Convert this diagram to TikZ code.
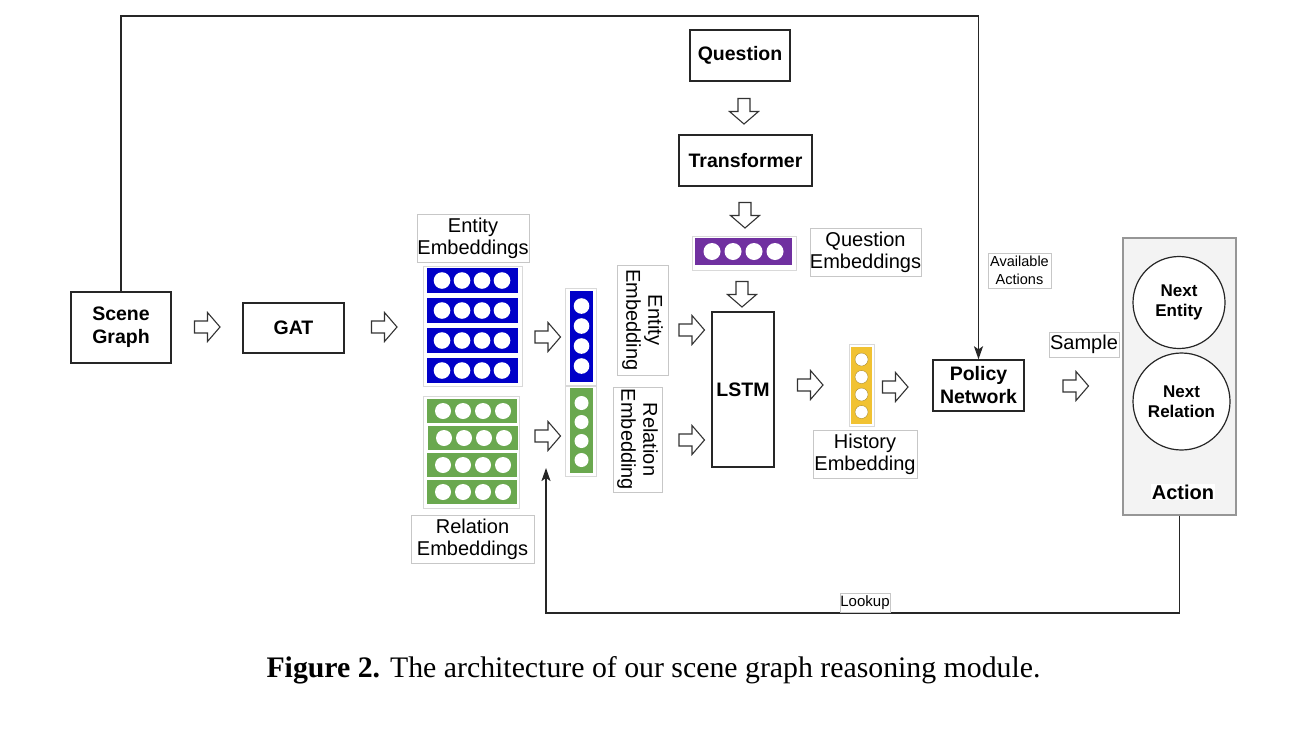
\documentclass[tikz,border=0pt]{standalone}
\usepackage{fontspec}
\setmainfont{Liberation Serif}
\setsansfont{Liberation Sans}
\usetikzlibrary{arrows.meta}
\definecolor{eblue}{RGB}{0,0,200}
\definecolor{rgreen}{RGB}{106,168,79}
\definecolor{qpurple}{RGB}{112,48,160}
\definecolor{hyellow}{RGB}{241,194,50}
\definecolor{actfill}{RGB}{243,243,243}
\definecolor{actdraw}{RGB}{150,150,150}
\newcommand\harr[3]{\draw[harrow,shift={(#1,#2)},rotate=#3] (-12.5,-6) -- (0.5,-6) -- (0.5,-14.5) -- (13,0) -- (0.5,14.5) -- (0.5,6) -- (-12.5,6) -- cycle;}
\begin{document}
\begin{tikzpicture}[x=1pt,y=-1pt,
  box/.style={draw=black!85, line width=1.4pt, inner sep=0pt, align=center, font=\sffamily\bfseries\fontsize{19.5}{23}\selectfont},
  lbl/.style={draw=black!22, line width=0.7pt, fill=white, inner sep=0pt, align=center, font=\sffamily\fontsize{20}{22}\selectfont},
  smalllbl/.style={lbl, font=\sffamily\fontsize{14.5}{18}\selectfont},
  harrow/.style={draw=black!80, line width=1.1pt, fill=white, line join=miter},
  conn/.style={draw=black!85, line width=1.8pt},
  tipped/.style={-{Stealth[length=13pt,width=9pt,inset=3pt]}},
  vframe/.style={draw=black!15, line width=0.6pt},
]
\useasboundingbox (0,0) rectangle (1298,734);

% main boxes
\node[box, minimum width=100pt, minimum height=71pt] (sg) at (121,327.5) {Scene\\Graph};
\node[box, minimum width=101pt, minimum height=50pt] (gat) at (293.5,328) {GAT};
\node[box, minimum width=100pt, minimum height=51pt] (q) at (740,55.5) {Question};
\node[box, minimum width=133pt, minimum height=51pt] (tr) at (745.5,160.5) {Transformer};
\node[box, minimum width=62pt, minimum height=155pt] (lstm) at (743,389.5) {LSTM};
\node[box, minimum width=91pt, minimum height=51pt] (pn) at (978.5,385.5) {Policy\\Network};

% action box
\node[draw=actdraw, fill=actfill, line width=1.2pt, minimum width=113pt, minimum height=277pt, inner sep=0pt] (act) at (1179.5,376.5) {};
\node[draw=black!85, line width=1.2pt, fill=white, circle, minimum size=92pt, inner sep=0pt, align=center, font=\sffamily\bfseries\fontsize{17}{20}\selectfont] (ne) at (1179,302.5) {Next\\Entity};
\node[draw=black!85, line width=1.2pt, fill=white, circle, minimum size=97pt, inner sep=0pt, align=center, font=\sffamily\bfseries\fontsize{17}{20}\selectfont] (nr) at (1181.5,401.5) {Next\\Relation};
\node[fill=white, inner sep=1pt, font=\sffamily\bfseries\fontsize{20}{22}\selectfont] (actl) at (1183,492) {Action};

% labels
\node[lbl, minimum width=112pt, minimum height=48pt] (eel) at (473,238) {Entity\\Embeddings};
\node[lbl, minimum width=123pt, minimum height=48pt] (rel) at (472.5,539) {Relation\\Embeddings};
\node[lbl, minimum width=111pt, minimum height=48pt] (qel) at (865.5,252) {Question\\Embeddings};
\node[lbl, minimum width=104pt, minimum height=48pt] (hel) at (865,454) {History\\Embedding};
\node[lbl, rotate=-90, minimum width=110pt, minimum height=51pt] (evl) at (642.5,320) {Entity\\Embedding};
\node[lbl, rotate=-90, minimum width=105pt, minimum height=49pt] (rvl) at (637.5,439.5) {Relation\\Embedding};
\node[smalllbl, minimum width=63pt, minimum height=35pt] (aal) at (1019.5,270.5) {Available\\Actions};
\node[lbl, minimum width=70pt, minimum height=25pt] (sml) at (1084,344.5) {Sample};

% entity embeddings (horizontal rows)
\draw[vframe] (423,266) rectangle (522,386);
\foreach \y in {268,298,328,358}{
  \fill[eblue] (427,\y) rectangle +(91,25);
  \foreach \x in {442,462,482,502} \fill[white] (\x,\y+12.5) circle (8.3pt);
}
% relation embeddings (horizontal rows)
\draw[vframe] (423,396) rectangle (519,508);
\foreach \y/\dx in {399/0,426/1,453/0,480/0}{
  \fill[rgreen] (427+\dx,\y) rectangle +(90,24);
  \foreach \x in {443,463,483,503} \fill[white] (\x+\dx,\y+12) circle (8pt);
}
% entity embedding (vertical)
\draw[vframe] (565,288) rectangle (596,385);
\fill[eblue] (570,291) rectangle (593,382);
\foreach \y in {306,326,346,366} \fill[white] (581.5,\y) circle (7.8pt);
% relation embedding (vertical)
\draw[vframe] (565,386) rectangle (596,476);
\fill[rgreen] (570,388) rectangle (593,473);
\foreach \y in {403,422,441,460} \fill[white] (581.5,\y) circle (7pt);
% question embedding
\draw[vframe] (692,236) rectangle (796,270);
\fill[qpurple] (695,238) rectangle (792,265);
\foreach \x in {712,733,754,775} \fill[white] (\x,251.5) circle (8.5pt);
% history embedding
\draw[vframe] (849,344) rectangle (874,426);
\fill[hyellow] (851,347) rectangle (872,424);
\foreach \y in {359.5,377,394.5,412} {\fill[white] (861.5,\y) circle (6.5pt); \draw[hyellow!70!black, line width=0.4pt] (861.5,\y) circle (6.5pt);}

% hollow block arrows
\harr{207}{327}{0}
\harr{384}{327}{0}
\harr{547.5}{337}{0}
\harr{547.5}{436}{0}
\harr{691.5}{330}{0}
\harr{691.5}{440}{0}
\harr{744}{111}{-90}
\harr{745}{215}{-90}
\harr{742}{294}{-90}
\harr{810}{385}{0}
\harr{895}{387}{0}
\harr{1075.5}{386}{0}

% connectors
\draw[conn, tipped] (sg.north) -- (sg.north |- 0,16) -| (pn.north);
\coordinate (lk) at (546,468);
\draw[conn, tipped] (act.south) -- (act.south |- 0,613) -| (lk);
\node[smalllbl, font=\sffamily\fontsize{15}{18}\selectfont, minimum width=50pt, minimum height=19pt] (lkl) at (865,602.5) {Lookup};

% caption
\node[anchor=base, inner sep=0pt, font=\fontsize{29.8}{34}\selectfont] (cap) at (653.5,677) {\textbf{Figure 2.} The architecture of our scene graph reasoning module.};
\end{tikzpicture}
\end{document}
